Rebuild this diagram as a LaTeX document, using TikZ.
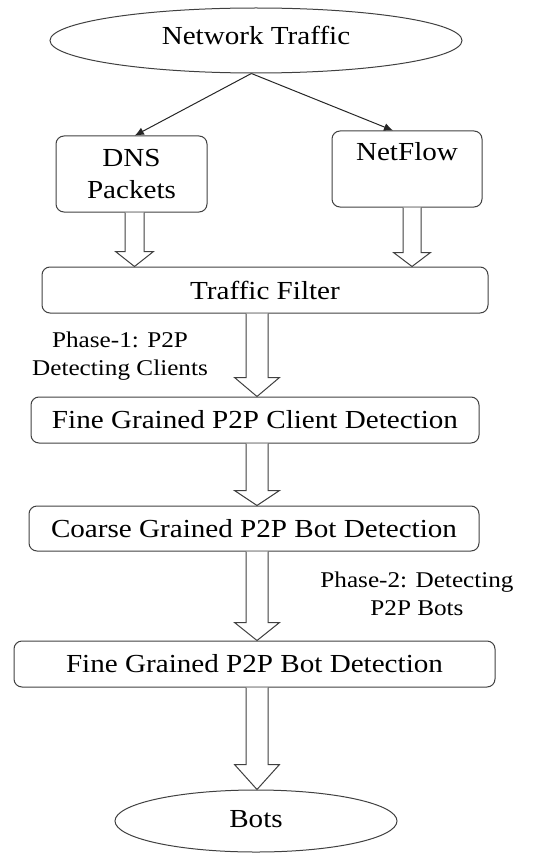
\documentclass[tikz,border=0pt]{standalone}
\usepackage{fontspec}
\setmainfont{Liberation Serif}
\newfontfamily\widefont{Liberation Serif}[FakeStretch=1.12]
\usetikzlibrary{shapes.geometric,arrows.meta,calc}
\tikzset{
 box/.style={draw=black!75, line width=1pt, rounded corners=8pt, inner sep=0pt, align=center, font=\widefont\fontsize{26}{32}\selectfont},
 oval/.style={ellipse, draw=black!75, line width=1pt, inner sep=0pt, font=\widefont\fontsize{26}{32}\selectfont},
 phase/.style={inner sep=0pt, align=center, font=\widefont\fontsize{22.5}{28}\selectfont},
 link/.style={draw=black!85, line width=1pt, -{Latex[length=9pt,width=8pt]}},
 barrow/.style={draw=black!75, line width=1pt, fill=white, line join=miter},
}
\newcommand{\hollowarrow}[6]{%
 \draw[barrow] let \p1=(#1.south), \p2=(#2.north) in
 ({#3pt-#4pt},\y1) -- ({#3pt-#4pt},{\y2+#6pt}) -- ({#3pt-#5pt},{\y2+#6pt}) -- (#3pt,\y2)
 -- ({#3pt+#5pt},{\y2+#6pt}) -- ({#3pt+#4pt},{\y2+#6pt}) -- ({#3pt+#4pt},\y1);}
\begin{document}
\begin{tikzpicture}[x=1pt,y=-1pt]
\useasboundingbox (0,0) rectangle (541,853);
\node[oval, minimum width=412pt, minimum height=65pt, text depth=11pt] (nt) at (256,40.5) {Network Traffic};
\node[box, minimum width=151pt, minimum height=76pt] (dns) at (131.5,174) {DNS\\Packets};
\node[box, minimum width=150pt, minimum height=76pt, text depth=4pt] (nf) at (407,169) {NetFlow\\~};
\node[box, minimum width=446pt, minimum height=46pt] (tf) at (265,290) {Traffic Filter};
\node[box, minimum width=448pt, minimum height=46pt] (fc) at (255,420) {Fine Grained P2P Client Detection};
\node[box, minimum width=450pt, minimum height=45pt] (cb) at (254,528.5) {Coarse Grained P2P Bot Detection};
\node[box, minimum width=481pt, minimum height=46pt] (fb) at (254.5,664) {Fine Grained P2P Bot Detection};
\node[oval, minimum width=282pt, minimum height=62pt, text depth=5pt] (bots) at (256,821) {Bots};
\node[phase] (p1) at (120,356) {Phase-1: P2P\\Detecting Clients};
\node[phase] (p2) at (417,594) {Phase-2: Detecting\\P2P Bots};
\draw[link] (nt.262) -- (dns.85);
\draw[link] (nt.262) -- (nf.110);
\hollowarrow{dns}{tf}{134.5}{9.5}{19}{15}
\hollowarrow{nf}{tf}{412}{9}{18.5}{14}
\hollowarrow{tf}{fc}{257}{11}{22.5}{19}
\hollowarrow{fc}{cb}{257}{11}{22.5}{15}
\hollowarrow{cb}{fb}{257}{11}{22.5}{18}
\hollowarrow{fb}{bots}{257}{11}{22.5}{25}
\end{tikzpicture}
\end{document}
